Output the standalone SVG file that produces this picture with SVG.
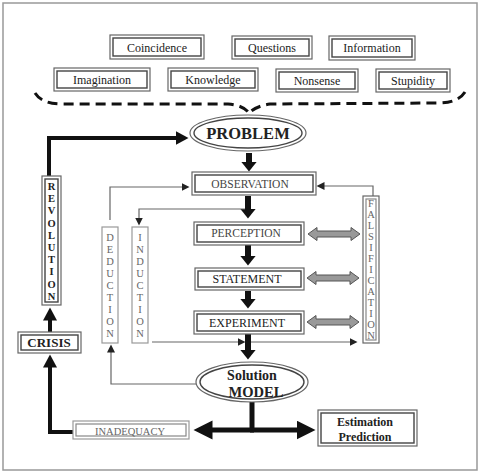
<svg xmlns="http://www.w3.org/2000/svg" width="481" height="473" viewBox="0 0 481 473">
<defs>
<style>
.o{fill:#fff;stroke:#666;stroke-width:1.2}
.i{fill:none;stroke:#444;stroke-width:1.4}
.ol{fill:#fff;stroke:#999;stroke-width:1.2}
.il{fill:none;stroke:#888;stroke-width:1.2}
.t{font-family:"Liberation Serif",serif;font-size:12px;fill:#222;text-anchor:middle}
.tg{font-family:"Liberation Serif",serif;font-size:11.5px;fill:#444;text-anchor:middle}
.b{font-family:"Liberation Serif",serif;font-weight:bold;fill:#222;text-anchor:middle}
.v{font-family:"Liberation Serif",serif;font-size:10.5px;fill:#666;text-anchor:middle}
.thin{fill:none;stroke:#666;stroke-width:1.2}
.thk{fill:none;stroke:#111;stroke-width:4}
.dn{fill:none;stroke:#111;stroke-width:6}
.big{fill:none;stroke:#111;stroke-width:5}
</style>
<marker id="mt" markerUnits="userSpaceOnUse" markerWidth="9" markerHeight="9" refX="0.5" refY="4" orient="auto"><path d="M0,0 L8,4 L0,8 z" fill="#222"/></marker>
<marker id="md" markerUnits="userSpaceOnUse" markerWidth="11" markerHeight="16" refX="0.5" refY="8" orient="auto"><path d="M0,0 L10,8 L0,16 z" fill="#111"/></marker>
<marker id="ml" markerUnits="userSpaceOnUse" markerWidth="14" markerHeight="14" refX="0.5" refY="7" orient="auto"><path d="M0,0 L13,7 L0,14 z" fill="#111"/></marker>
<marker id="mb" markerUnits="userSpaceOnUse" markerWidth="20" markerHeight="20" refX="0.5" refY="9.5" orient="auto"><path d="M0,0 L19,9.5 L0,19 z" fill="#111"/></marker>
<path id="dbl" d="M0,0 L9,-6.5 L9,-3 L43,-3 L43,-6.5 L52,0 L43,6.5 L43,3 L9,3 L9,6.5 Z" fill="#999" stroke="#555" stroke-width="1"/>
</defs>
<rect x="0" y="0" width="481" height="473" fill="#fff"/>
<rect x="3" y="3" width="474" height="467" fill="none" stroke="#999" stroke-width="1.5"/>

<g id="connectors">
<path d="M35,93 Q42,104 62,104 L228,104 Q243,105 249,113" fill="none" stroke="#111" stroke-width="3" stroke-dasharray="10 6"/>
<path d="M465,92 Q458,103 438,103 L270,104 Q256,106 249,113" fill="none" stroke="#111" stroke-width="3" stroke-dasharray="10 6"/>
<path class="thk" d="M49,177 L49,138 L176,138" marker-end="url(#ml)"/>
<path class="dn" d="M249,153 L249,162" marker-end="url(#md)"/>
<path class="dn" d="M248,196 L248,209" marker-end="url(#md)"/>
<path class="dn" d="M248,245 L248,256" marker-end="url(#md)"/>
<path class="dn" d="M248,291 L248,299" marker-end="url(#md)"/>
<path class="dn" d="M248,334 L248,350" marker-end="url(#md)"/>
<path class="thin" d="M152,342 L238,342" marker-end="url(#mt)"/>
<path class="thin" d="M251,342 L350,342" marker-end="url(#mt)"/>
<path class="thin" d="M245,209 L139,209 L139,218" marker-end="url(#mt)"/>
<path class="thin" d="M110,220 L110,187 L182,187" marker-end="url(#mt)"/>
<path class="thin" d="M196,384 L111,384 L111,352" marker-end="url(#mt)"/>
<path class="thin" d="M373,196 L373,186 L324,186" marker-end="url(#mt)"/>
<path class="big" d="M252,402 L252,430"/>
<path class="big" d="M254,430 L212,430" marker-end="url(#mb)"/>
<path class="big" d="M250,430 L297,430" marker-end="url(#mb)"/>
<path class="thk" d="M73,432 L50,432 L50,367" marker-end="url(#ml)"/>
<path class="thk" d="M50,332 L50,320" marker-end="url(#ml)"/>
<use href="#dbl" x="308" y="234"/>
<use href="#dbl" x="307" y="278"/>
<use href="#dbl" x="307" y="322"/>
</g>

<g id="coincidence"><rect class="o" x="110" y="35" width="94" height="24"/><rect class="i" x="113" y="38" width="88" height="18"/><text class="t" x="157" y="51.5">Coincidence</text></g>
<g id="questions"><rect class="o" x="232" y="36" width="80" height="23"/><rect class="i" x="235" y="39" width="74" height="17"/><text class="t" x="272" y="52">Questions</text></g>
<g id="information"><rect class="o" x="329" y="36" width="86" height="24"/><rect class="i" x="332" y="39" width="80" height="18"/><text class="t" x="372" y="52">Information</text></g>
<g id="imagination"><rect class="o" x="54" y="68" width="96" height="23"/><rect class="i" x="57" y="71" width="90" height="17"/><text class="t" x="102" y="84">Imagination</text></g>
<g id="knowledge"><rect class="o" x="168" y="68" width="90" height="23"/><rect class="i" x="171" y="71" width="84" height="17"/><text class="t" x="213" y="84">Knowledge</text></g>
<g id="nonsense"><rect class="o" x="276" y="69" width="82" height="23"/><rect class="i" x="279" y="72" width="76" height="17"/><text class="t" x="317" y="85">Nonsense</text></g>
<g id="stupidity"><rect class="o" x="376" y="69" width="74" height="23"/><rect class="i" x="379" y="72" width="68" height="17"/><text class="t" x="413" y="85">Stupidity</text></g>

<g id="problem"><ellipse class="o" cx="248" cy="133" rx="58" ry="18"/><ellipse class="i" cx="248" cy="133" rx="54" ry="15"/><text class="b" x="248" y="139" font-size="16.5">PROBLEM</text></g>
<g id="observation"><rect class="o" x="192" y="172" width="124" height="23"/><rect class="i" x="195" y="175" width="118" height="17"/><text class="tg" x="250" y="188">OBSERVATION</text></g>
<g id="perception"><rect class="o" x="194" y="222" width="110" height="23"/><rect class="i" x="197" y="225" width="104" height="17"/><text class="tg" x="246" y="237" font-size="12">PERCEPTION</text></g>
<g id="statement"><rect class="o" x="195" y="268" width="109" height="22"/><rect class="i" x="198" y="271" width="103" height="16"/><text class="t" x="247" y="283">STATEMENT</text></g>
<g id="experiment"><rect class="o" x="194" y="311" width="110" height="23"/><rect class="i" x="197" y="314" width="104" height="17"/><text class="t" x="247" y="327">EXPERIMENT</text></g>
<g id="solution"><ellipse class="o" cx="252" cy="382" rx="56" ry="20"/><ellipse class="i" cx="252" cy="382" rx="52" ry="17"/><text class="b" x="252" y="380" font-size="14">Solution</text><text class="b" x="256" y="397" font-size="14.5">MODEL</text></g>
<g id="estimation"><rect class="o" x="318" y="410" width="99" height="36"/><rect class="i" x="321" y="413" width="93" height="30"/><text class="b" x="365" y="426" font-size="12">Estimation</text><text class="b" x="365" y="441" font-size="12">Prediction</text></g>
<g id="inadequacy"><rect class="ol" x="73" y="421" width="116" height="18"/><rect class="il" x="76" y="424" width="110" height="12"/><text class="v" x="130" y="435" font-size="10.5" fill="#777">INADEQUACY</text></g>
<g id="crisis"><rect class="o" x="18" y="332" width="63" height="21"/><rect class="i" x="21" y="335" width="57" height="15"/><text class="b" x="49" y="347" font-size="13">CRISIS</text></g>
<g id="revolution"><rect class="o" x="42" y="176" width="19" height="129"/><rect class="i" x="45" y="179" width="13" height="123"/>
<text class="b" font-size="10.5"><tspan x="51.5" y="190">R</tspan><tspan x="51.5" y="202.2">E</tspan><tspan x="51.5" y="214.4">V</tspan><tspan x="51.5" y="226.6">O</tspan><tspan x="51.5" y="238.8">L</tspan><tspan x="51.5" y="251">U</tspan><tspan x="51.5" y="263.2">T</tspan><tspan x="51.5" y="275.4">I</tspan><tspan x="51.5" y="287.6">O</tspan><tspan x="51.5" y="299.8">N</tspan></text></g>
<g id="deduction"><rect class="ol" x="102" y="227" width="16" height="116"/>
<text class="v"><tspan x="110" y="241">D</tspan><tspan x="110" y="253">E</tspan><tspan x="110" y="265">D</tspan><tspan x="110" y="277">U</tspan><tspan x="110" y="289">C</tspan><tspan x="110" y="301">T</tspan><tspan x="110" y="313">I</tspan><tspan x="110" y="325">O</tspan><tspan x="110" y="337">N</tspan></text></g>
<g id="induction"><rect class="ol" x="132" y="227" width="16" height="116"/>
<text class="v"><tspan x="140" y="241">I</tspan><tspan x="140" y="253">N</tspan><tspan x="140" y="265">D</tspan><tspan x="140" y="277">U</tspan><tspan x="140" y="289">C</tspan><tspan x="140" y="301">T</tspan><tspan x="140" y="313">I</tspan><tspan x="140" y="325">O</tspan><tspan x="140" y="337">N</tspan></text></g>
<g id="falsification"><rect class="o" x="363" y="196" width="16" height="147"/><rect class="il" x="366" y="199" width="10" height="141"/>
<text class="v" font-size="10"><tspan x="371" y="207">F</tspan><tspan x="371" y="218">A</tspan><tspan x="371" y="229">L</tspan><tspan x="371" y="240">S</tspan><tspan x="371" y="251">I</tspan><tspan x="371" y="262">F</tspan><tspan x="371" y="273">I</tspan><tspan x="371" y="284">C</tspan><tspan x="371" y="295">A</tspan><tspan x="371" y="306">T</tspan><tspan x="371" y="317">I</tspan><tspan x="371" y="328">O</tspan><tspan x="371" y="339">N</tspan></text></g>
</svg>
